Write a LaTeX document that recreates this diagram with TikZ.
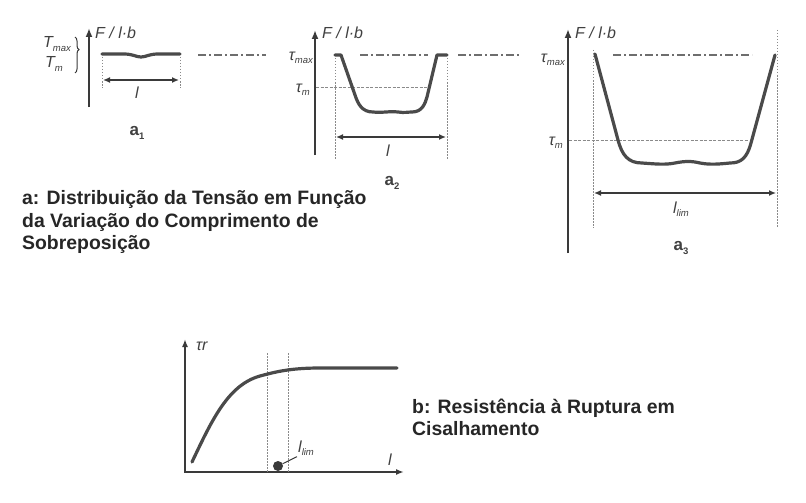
\documentclass[tikz,border=0pt]{standalone}
\usepackage{fontspec}
\setmainfont{Liberation Sans}
\usetikzlibrary{arrows.meta,decorations.pathreplacing}
\definecolor{axcol}{HTML}{3A3A3A}
\definecolor{curvecol}{HTML}{4A4A4A}
\definecolor{txtcol}{HTML}{404040}
\definecolor{capcol}{HTML}{262626}
\definecolor{guidecol}{HTML}{8A8A8A}
\newcommand\sbs[1]{\raisebox{-0.4ex}{\fontsize{9.5}{9.5}\selectfont #1}}
\begin{document}
\begin{tikzpicture}[x=1pt,y=-1pt,
  axis/.style={line width=2.2pt, draw=axcol, -{Latex[length=9pt,width=7pt]}},
  curve/.style={line width=3.2pt, draw=curvecol, line cap=round, line join=round},
  dimline/.style={line width=1.3pt, draw=axcol, {Latex[length=7pt,width=6pt]}-{Latex[length=7pt,width=6pt]}},
  guide/.style={line width=0.7pt, draw=guidecol, dash pattern=on 1.5pt off 1.5pt},
  mguide/.style={line width=0.8pt, draw=guidecol, dash pattern=on 3pt off 1.5pt},
  dashdot/.style={line width=1.2pt, draw=guidecol!80!black, dash pattern=on 8pt off 3pt on 2pt off 3pt},
  lbl/.style={font=\itshape\fontsize{16}{16}\selectfont, text=txtcol, inner sep=1pt},
  sublbl/.style={font=\bfseries\fontsize{17}{17}\selectfont, text=txtcol, inner sep=1pt},
  captxt/.style={font=\bfseries\fontsize{19.4}{22}\selectfont, anchor=base west, inner sep=0pt, text=capcol}
]
\useasboundingbox (0,0) rectangle (806,503);
\fill[white] (0,0) rectangle (806,503);

% ---------------- a1 ----------------
\coordinate (a1bot) at (89,107);
\coordinate (a1top) at (89,28);
\draw[axis] (a1bot) -- (a1top);
\node[lbl, anchor=west] (a1F) at (94,33) {F / l·b};
\node[lbl, anchor=east] (a1Tmax) at (72,44) {T\sbs{max}};
\node[lbl, anchor=east] (a1Tm) at (64,64) {T\sbs{m}};
\draw[line width=1pt, draw=axcol, decorate, decoration={brace, amplitude=4pt, aspect=0.35}] (75,37) -- (75,73);
\coordinate (a1L) at (102,54);
\coordinate (a1R) at (180,54);
\draw[guide] (a1L) -- (102,88);
\draw[guide] (a1R) -- (180,88);
\draw[curve] (a1L) -- (124,54) .. controls (133,54) and (136,57) .. (141,57) .. controls (146,57) and (149,54) .. (158,54) -- (a1R);
\coordinate (a1dl) at (103,80);
\coordinate (a1dr) at (179,80);
\draw[dimline] (a1dl) -- (a1dr);
\node[lbl] (a1l) at (137,93) {l};
\node[sublbl] (a1name) at (137,133) {a\sbs{1}};

% ---------------- dash-dot reference line ----------------
\draw[dashdot] (198,55) -- (266,55);
\draw[dashdot] (360,55) -- (428,55);
\draw[dashdot] (458,55) -- (520,55);
\draw[dashdot] (613,55) -- (752,55);

% ---------------- a2 ----------------
\coordinate (a2bot) at (315,155);
\coordinate (a2top) at (315,30);
\draw[axis] (a2bot) -- (a2top);
\node[lbl, anchor=west] (a2F) at (321,33) {F / l·b};
\node[lbl, anchor=east] (a2tmax) at (314,58) {τ\sbs{max}};
\node[lbl, anchor=east] (a2tm) at (311,90) {τ\sbs{m}};
\draw[mguide] (316,87) -- (427,87);
\draw[guide] (335,55) -- (335,160);
\draw[guide] (447,55) -- (447,160);
\draw[curve] (335,55) -- (341,55) -- (355,95) .. controls (358,104) and (362,112) .. (373,112)
  .. controls (382,113) and (390,111) .. (398,112) .. controls (404,113) and (408,112) .. (412,112)
  .. controls (422,112) and (425,104) .. (427,97) -- (437,55) -- (447,55);
\draw[dimline] (336,137) -- (446,137);
\node[lbl] (a2l) at (388,151) {l};
\node[sublbl] (a2name) at (392,183) {a\sbs{2}};

% ---------------- a3 ----------------
\coordinate (a3bot) at (568,253);
\coordinate (a3top) at (568,29);
\draw[axis] (a3bot) -- (a3top);
\node[lbl, anchor=west] (a3F) at (574,33) {F / l·b};
\node[lbl, anchor=east] (a3tmax) at (566,60) {τ\sbs{max}};
\node[lbl, anchor=east] (a3tm) at (564,143) {τ\sbs{m}};
\draw[mguide] (569,140) -- (748,140);
\draw[guide] (593,50) -- (593,228);
\draw[guide] (777,30) -- (777,228);
\draw[curve] (595,54) -- (618,140) .. controls (622,155) and (628,163) .. (642,163)
  .. controls (656,164) and (665,165) .. (675,163) .. controls (685,161) and (692,161) .. (700,163)
  .. controls (710,165) and (720,164) .. (730,163)
  .. controls (741,163) and (747,158) .. (751,143) -- (775,55);
\draw[dimline] (594,193) -- (776,193);
\node[lbl] (a3l) at (681,209) {l\sbs{lim}};
\node[sublbl] (a3name) at (681,248) {a\sbs{3}};

% ---------------- caption a ----------------
\node[captxt] (capA1) at (22,204.5) {a: Distribuição da Tensão em Função};
\node[captxt] (capA2) at (22,227) {da Variação do Comprimento de};
\node[captxt] (capA3) at (22,249.5) {Sobreposição};

% ---------------- b ----------------
\coordinate (bO) at (185,472);
\coordinate (bY) at (185,339);
\coordinate (bX) at (404,472);
\draw[axis, {Latex[length=8pt,width=6pt]}-{Latex[length=8pt,width=6pt]}] (bY) -- (bO) -- (bX);
\node[lbl, anchor=west] (btr) at (195,346) {τr};
\draw[guide] (267,353) -- (267,472);
\draw[guide] (288,353) -- (288,472);
\draw[curve] (192,462) .. controls (212,420) and (228,385) .. (260,376)
  .. controls (275,372) and (290,368) .. (320,368) -- (397,368);
\node[circle, fill=axcol, inner sep=0pt, minimum size=10pt] (bdot) at (278,466) {};
\node[lbl, anchor=west] (blim) at (297,448) {l\sbs{lim}};
\draw[line width=1pt, draw=axcol] (bdot) -- (blim.south west);
\node[lbl] (bl) at (390,460) {l};

% ---------------- caption b ----------------
\node[captxt] (capB1) at (412,413.5) {b: Resistência à Ruptura em};
\node[captxt] (capB2) at (412,435.5) {Cisalhamento};
\end{tikzpicture}
\end{document}
